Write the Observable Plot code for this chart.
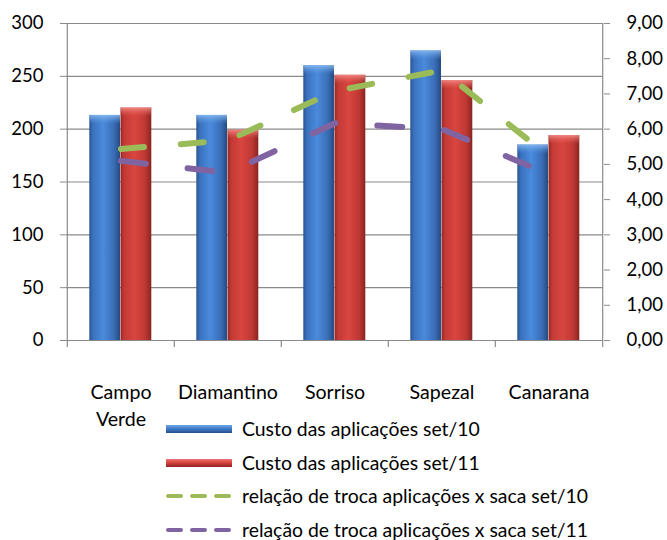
<!DOCTYPE html>
<html><head><meta charset="utf-8">
<script src="https://cdn.jsdelivr.net/npm/d3@7"></script>
<script src="https://cdn.jsdelivr.net/npm/@observablehq/plot@0.6"></script>
<style>
body{margin:0;background:#fff;font-family:Lato,sans-serif;}
#chart svg{display:block;}
#legend{padding-left:166px;margin-top:-5.75px;}
.row{height:33.5px;display:flex;align-items:center;font-size:19.4px;line-height:1;color:#000;white-space:nowrap;}
.sw{width:66px;height:8px;margin-right:10px;flex:none;}
.sw svg{display:block;}
</style></head><body>
<div id="chart"></div><div id="legend"></div>
<script>
const cities = ["Campo Verde", "Diamantino", "Sorriso", "Sapezal", "Canarana"];
const custo10 = [213, 213, 260, 274, 185];
const custo11 = [220, 199, 251, 246, 194];
const troca10 = [5.44, 5.68, 7.08, 7.67, 5.22];
const troca11 = [5.10, 4.76, 6.17, 6.00, 4.72];
const leftTicks = [0, 50, 100, 150, 200, 250, 300];
const rightTicks = [0, 1, 2, 3, 4, 5, 6, 7, 8, 9];
const seriesNames = ["Custo das aplicações set/10", "Custo das aplicações set/11",
  "relação de troca aplicações x saca set/10", "relação de troca aplicações x saca set/11"];

const W = 667, H = 418, ML = 66, MR = 64, MT = 23, MB = 78;
const bw = (W - ML - MR) / cities.length;
const LMAX = 300, RMAX = 9;
const toLeft = v => v * LMAX / RMAX;

const bars10 = cities.map((c, i) => ({city: c, v: custo10[i]}));
const bars11 = cities.map((c, i) => ({city: c, v: custo11[i]}));
const line10 = cities.map((c, i) => ({city: c, v: toLeft(troca10[i])}));
const line11 = cities.map((c, i) => ({city: c, v: toLeft(troca11[i])}));
const grey = "#8a8a8a";

const chart = Plot.plot({
  width: W, height: H,
  marginLeft: ML, marginRight: MR, marginTop: MT, marginBottom: MB,
  style: {fontFamily: "Lato, sans-serif", fontSize: "18.5px", color: "#000", background: "#fff", overflow: "visible"},
  x: {type: "band", domain: cities, padding: 0, label: null, axis: null},
  y: {domain: [0, LMAX], label: null},
  marks: [
    Plot.gridY(leftTicks, {stroke: grey, strokeOpacity: 1, strokeWidth: 1.2}),
    Plot.ruleX([cities[0]], {x: d => d, dx: -bw / 2, y1: LMAX, y2: 0, insetBottom: -7, stroke: grey, strokeWidth: 1.2}),
    Plot.ruleX([cities[cities.length - 1]], {x: d => d, dx: bw / 2, y1: LMAX, y2: 0, insetBottom: -7, stroke: grey, strokeWidth: 1.2}),
    Plot.ruleX(cities.slice(1), {x: d => d, dx: -bw / 2, y1: 0, y2: 0, insetBottom: -7, stroke: grey, strokeWidth: 1.2}),
    Plot.axisY({ticks: leftTicks, tickSize: 6, tickPadding: 17, stroke: grey, label: null, tickFormat: d => String(d)}),
    Plot.axisY({anchor: "right", ticks: rightTicks.map(toLeft), tickSize: 6, tickPadding: 17, stroke: grey, label: null,
      tickFormat: d => d3.format(".2f")(d * RMAX / LMAX).replace(".", ",")}),
    Plot.text(cities, {x: d => d, y: () => 0, text: d => d.replace(" ", "\n"), lineAnchor: "top", dy: 40,
      lineHeight: 1.35, fontSize: 19.6, fill: "#000"}),
    Plot.barY(bars10, {x: "city", y1: 0, y2: "v", fill: "url(#gBlue)", insetLeft: 22.3, insetRight: 54}),
    Plot.barY(bars11, {x: "city", y1: 0, y2: "v", fill: "url(#gRed)", insetLeft: 53.5, insetRight: 22.7}),
    Plot.barY(bars10, {x: "city", y1: "v", y2: "v", insetBottom: -9, fill: "url(#tBlue)", insetLeft: 22.3, insetRight: 54}),
    Plot.barY(bars11, {x: "city", y1: "v", y2: "v", insetBottom: -9, fill: "url(#tRed)", insetLeft: 53.5, insetRight: 22.7}),
    Plot.line(line10, {x: "city", y: "v", stroke: "#9BBB59", strokeWidth: 6, strokeDasharray: "23,37", strokeLinecap: "round"}),
    Plot.line(line11, {x: "city", y: "v", stroke: "#8064A2", strokeWidth: 6, strokeDasharray: "25,42", strokeLinecap: "round"})
  ]
});

const defs = `<defs>
<linearGradient id="gBlue" x1="0" x2="1" y1="0" y2="0">
<stop offset="0" stop-color="#2A5491"/><stop offset="0.12" stop-color="#3A72BE"/>
<stop offset="0.45" stop-color="#4A8BDC"/><stop offset="0.8" stop-color="#3A6DB6"/>
<stop offset="1" stop-color="#254B82"/></linearGradient>
<linearGradient id="gRed" x1="0" x2="1" y1="0" y2="0">
<stop offset="0" stop-color="#952826"/><stop offset="0.12" stop-color="#C23A35"/>
<stop offset="0.45" stop-color="#DA453F"/><stop offset="0.8" stop-color="#BE3833"/>
<stop offset="1" stop-color="#8A2421"/></linearGradient>
<linearGradient id="tBlue" x1="0" x2="0" y1="0" y2="1">
<stop offset="0" stop-color="#8DBDF2" stop-opacity="0.85"/><stop offset="1" stop-color="#5C9BE6" stop-opacity="0"/></linearGradient>
<linearGradient id="tRed" x1="0" x2="0" y1="0" y2="1">
<stop offset="0" stop-color="#F59490" stop-opacity="0.85"/><stop offset="1" stop-color="#E35A54" stop-opacity="0"/></linearGradient>
</defs>`;
chart.insertAdjacentHTML("afterbegin", defs);
document.getElementById("chart").append(chart);

const legend = document.getElementById("legend");
const sw = [
  `<div class="sw" style="background:linear-gradient(#6FA6E6,#3D78C6 50%,#264E86)"></div>`,
  `<div class="sw" style="background:linear-gradient(#F07570,#D2403B 50%,#8E2522)"></div>`,
  `<div class="sw" style="height:6px"><svg width="66" height="6"><line x1="2" y1="3" x2="64" y2="3" stroke="#9BBB59" stroke-width="4" stroke-dasharray="13,11" stroke-linecap="round" /></svg></div>`,
  `<div class="sw" style="height:6px"><svg width="66" height="6"><line x1="2" y1="3" x2="64" y2="3" stroke="#8064A2" stroke-width="4" stroke-dasharray="13,11" stroke-linecap="round" /></svg></div>`
];
seriesNames.forEach((n, i) => {
  const r = document.createElement("div");
  r.className = "row";
  r.innerHTML = sw[i] + `<span>${n}</span>`;
  legend.append(r);
});
</script>
</body></html>
